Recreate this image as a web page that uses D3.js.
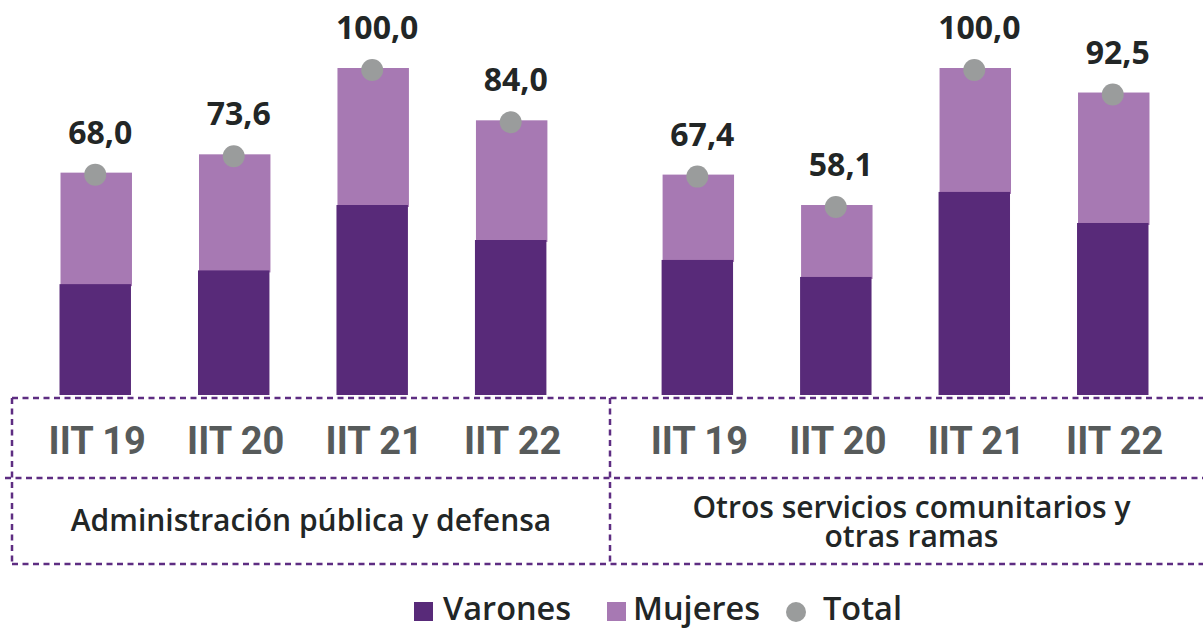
<!DOCTYPE html>
<html><head><meta charset="utf-8">
<script src="https://cdn.jsdelivr.net/npm/d3@7"></script>
<style>body{margin:0;background:#fff}svg{display:block}</style>
</head><body>
<svg id="c" width="1203" height="630"></svg>
<script>
const groups = ["Administración pública y defensa", "Otros servicios comunitarios y otras ramas"];
const groupLines = [["Administración pública y defensa"], ["Otros servicios comunitarios y", "otras ramas"]];
const periods = ["IIT 19", "IIT 20", "IIT 21", "IIT 22"];
const varones = [[33.9, 38.1, 58.1, 47.4], [41.3, 36.1, 62.1, 52.6]];
const total = [[68.0, 73.6, 100.0, 84.0], [67.4, 58.1, 100.0, 92.5]];
const mujeres = total.map((t, g) => t.map((v, i) => +(v - varones[g][i]).toFixed(1)));
const legendItems = ["Varones", "Mujeres", "Total"];

const C_DARK = "#582a79", C_LIGHT = "#a779b3", C_GRAY = "#9a9c9c";
const svg = d3.select("#c");

const xG = d3.scaleBand().domain(groups).range([26, 1182]).paddingInner(0.08);
const xP = d3.scaleBand().domain(periods).range([0, xG.bandwidth()]).paddingInner(0.484).paddingOuter(0.242);
const y = d3.scaleLinear().domain([0, 100]).range([395, 68]);

const data = [];
groups.forEach((g, gi) => periods.forEach((p, pi) => data.push({
  g, p, v: varones[gi][pi], m: mujeres[gi][pi], t: total[gi][pi]
})));
const cx = d => xG(d.g) + xP(d.p) + xP.bandwidth() / 2;

// Mujeres (stacked on top of varones)
svg.append("g").selectAll("rect").data(data).join("rect")
  .attr("x", d => xG(d.g) + xP(d.p) + 1)
  .attr("width", xP.bandwidth())
  .attr("y", d => y(d.v + d.m))
  .attr("height", d => y(d.v) - y(d.v + d.m) + 2)
  .attr("fill", C_LIGHT);
// Varones
svg.append("g").selectAll("rect").data(data).join("rect")
  .attr("x", d => xG(d.g) + xP(d.p))
  .attr("width", xP.bandwidth())
  .attr("y", d => y(d.v))
  .attr("height", d => y(0) - y(d.v))
  .attr("fill", C_DARK);
// Total dots
svg.append("g").selectAll("circle").data(data).join("circle")
  .attr("cx", cx).attr("cy", d => y(d.t) + 2).attr("r", 11)
  .attr("fill", C_GRAY);
// Value labels
svg.append("g").selectAll("text").data(data).join("text")
  .attr("x", d => cx(d) + 5).attr("y", d => y(d.t) - 29)
  .attr("text-anchor", "middle")
  .attr("font-family", "'Open Sans', sans-serif").attr("font-weight", 700)
  .attr("font-size", 32).attr("fill", "#222626")
  .text(d => d3.format(".1f")(d.t).replace(".", ","));

// Dashed table
const dash = { stroke: "#5e2d82", "stroke-width": 2.5, "stroke-dasharray": "6,4.5", fill: "none" };
const left = xG(groups[0]) - 14;
const divX = (xG(groups[0]) + xG.bandwidth() + xG(groups[1])) / 2 + 6;
const yTop = 398, yMid = 478, yBot = 564;
const lines = [
  [left, yTop, 1203, yTop], [left - 7, yMid, 1203, yMid], [left, yBot, 1203, yBot],
  [left, yTop, left, yBot], [divX, yTop, divX, yBot]
];
const lg = svg.append("g");
lines.forEach(l => {
  const ln = lg.append("line").attr("x1", l[0]).attr("y1", l[1]).attr("x2", l[2]).attr("y2", l[3]);
  Object.entries(dash).forEach(([k, v]) => ln.attr(k, v));
});

// Period tick labels
svg.append("g").selectAll("text").data(data).join("text")
  .attr("x", d => cx(d) + 2).attr("y", 454)
  .attr("text-anchor", "middle")
  .attr("font-family", "Roboto, sans-serif").attr("font-weight", 700)
  .attr("font-size", 38).attr("fill", "#575b5b")
  .text(d => d.p);

// Group labels (one text element per group, lines as tspans)
groups.forEach((g, gi) => {
  const gx = gi === 0 ? (left + divX) / 2 : (divX + 1203) / 2 + 5;
  const ls = groupLines[gi];
  const y0 = ls.length === 1 ? 531 : 518;
  const t = svg.append("text")
    .attr("text-anchor", "middle")
    .attr("font-family", "'Open Sans', sans-serif").attr("font-weight", 600)
    .attr("font-size", 30).attr("fill", "#222626");
  ls.forEach((line, li) => t.append("tspan")
    .attr("x", gx).attr("y", y0 + li * 29).text(line));
});

// Legend
const legX = [414, 607, 796];
const leg = svg.append("g");
legendItems.forEach((name, i) => {
  if (i < 2) {
    leg.append("rect").attr("x", legX[i]).attr("y", 602).attr("width", 19).attr("height", 19)
      .attr("fill", i === 0 ? C_DARK : C_LIGHT);
  } else {
    leg.append("circle").attr("cx", legX[i]).attr("cy", 612).attr("r", 10).attr("fill", C_GRAY);
  }
  leg.append("text").attr("x", legX[i] + (i < 2 ? (i === 0 ? 29 : 26) : 27)).attr("y", 620)
    .attr("font-family", "'Open Sans', sans-serif").attr("font-weight", 600)
    .attr("font-size", 32.5).attr("fill", "#222626").text(name);
});
</script>
</body></html>
